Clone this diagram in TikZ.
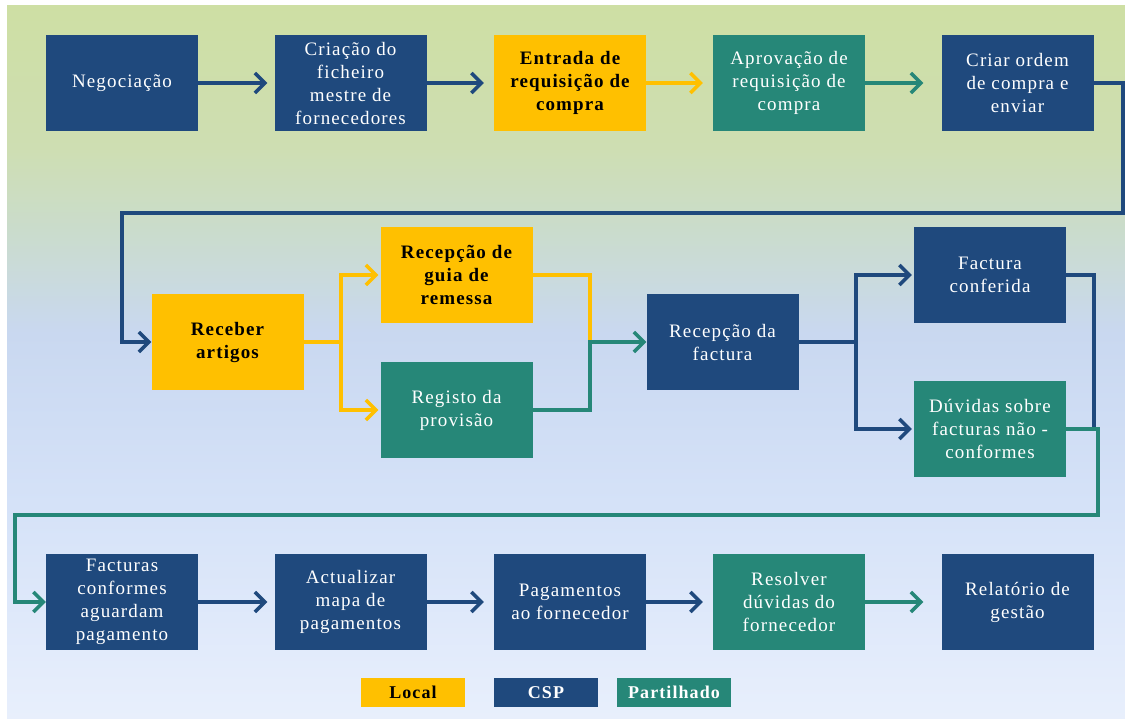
\documentclass[tikz,border=0pt]{standalone}
\usepackage{fontspec}
\setmainfont{Liberation Serif}[LetterSpace=6]
\usetikzlibrary{arrows.meta}

\definecolor{cspblue}{RGB}{31,73,125}
\definecolor{locyellow}{RGB}{255,192,0}
\definecolor{sharedteal}{RGB}{38,135,120}
\definecolor{bgA}{RGB}{206,223,164}
\definecolor{bgB}{RGB}{206,222,178}
\definecolor{bgC}{RGB}{202,220,205}
\definecolor{bgD}{RGB}{201,216,240}
\definecolor{bgE}{RGB}{213,226,248}
\definecolor{bgF}{RGB}{232,239,252}

% page background: green at the top fading to pale blue
\pgfdeclareverticalshading{pagebg}{100bp}{
  color(0bp)=(bgF); color(25bp)=(bgF); color(40bp)=(bgE);
  color(52bp)=(bgD); color(59bp)=(bgC); color(65bp)=(bgB);
  color(75bp)=(bgA); color(100bp)=(bgA)}

\newcommand{\boxfont}{\fontsize{19}{23}\selectfont}
\newcommand{\legfont}{\fontsize{18}{20}\selectfont\bfseries}

\tikzset{
  box/.style={rectangle, minimum width=152pt, minimum height=96pt,
    inner sep=2pt, align=center, font=\boxfont},
  csp/.style={box, fill=cspblue, text=white},
  loc/.style={box, fill=locyellow, text=black, font=\boxfont\bfseries},
  shared/.style={box, fill=sharedteal, text=white},
  legend/.style={rectangle, minimum height=29pt, inner sep=0pt, font=\legfont},
  wire/.style={line width=3.5pt},
  tip/.style={-{Straight Barb[length=10pt,width=20pt,line width=3.5pt]}},
  bluewire/.style={wire, draw=cspblue},
  yelwire/.style={wire, draw=locyellow},
  tealwire/.style={wire, draw=sharedteal},
}

\begin{document}
\begin{tikzpicture}[x=1pt, y=-1pt]
\useasboundingbox (0,0) rectangle (1125,721);
\fill[white] (0,0) rectangle (1125,721);
\shade[shading=pagebg] (7,5) rectangle (1125,718);

% first row
\node[csp]    (neg)   at (122,83)   {Negociação};
\node[csp]    (cri)   at (350.5,83) {Criação do\\ficheiro\\mestre de\\fornecedores};
\node[loc]    (ent)   at (570,83)   {Entrada de\\requisição de\\compra};
\node[shared] (apr)   at (789,83)   {Aprovação de\\requisição de\\compra};
\node[csp]    (ord)   at (1017.5,83){Criar ordem\\de compra e\\enviar};

% second row
\node[loc]    (rec)   at (227.5,342){Receber\\artigos};
\node[loc]    (guia)  at (456.5,275){Recepção de\\guia de\\remessa};
\node[shared] (prov)  at (456.5,410){Registo da\\provisão};
\node[csp]    (fact)  at (722.5,342){Recepção da\\factura};
\node[csp]    (conf)  at (990,275)  {Factura\\conferida};
\node[shared] (duv)   at (990,429)  {Dúvidas sobre\\facturas não -\\conformes};

% third row
\node[csp]    (agu)   at (122,602)  {Facturas\\conformes\\aguardam\\pagamento};
\node[csp]    (act)   at (350.5,602){Actualizar\\mapa de\\pagamentos};
\node[csp]    (pag)   at (570,602)  {Pagamentos\\ao fornecedor};
\node[shared] (res)   at (789,602)  {Resolver\\dúvidas do\\fornecedor};
\node[csp]    (rel)   at (1017.5,602){Relatório de\\gestão};

% legend
\node[legend, minimum width=104pt, fill=locyellow, text=black] (lgloc) at (413,692.5) {Local};
\node[legend, minimum width=104pt, fill=cspblue, text=white]   (lgcsp) at (546,692.5) {CSP};
\node[legend, minimum width=114pt, fill=sharedteal, text=white] (lgsh) at (674,692.5) {Partilhado};

% routing points
\coordinate (loopR) at (1123,213);
\coordinate (loopL) at (122,213);
\coordinate (ysplit) at (341,342);
\coordinate (yjoin) at (590,342);
\coordinate (bsplit) at (856,342);
\coordinate (bjoin) at (1094,429);
\coordinate (tturn) at (1098,515);
\coordinate (tleft) at (15,515);

% first row connectors
\draw[bluewire, tip, shorten >=7pt]  (neg.east) -- (cri.west);
\draw[bluewire, tip, shorten >=10pt] (cri.east) -- (ent.west);
\draw[yelwire, tip, shorten >=10pt]  (ent.east) -- (apr.west);
\draw[tealwire, tip, shorten >=18pt] (apr.east) -- (ord.west);

% return from the first row to the second
\draw[bluewire, tip] (ord.east) -| (loopR) -- (loopL) |- (rec.west);

% goods receipt split and join
\draw[yelwire] (rec.east) -- (ysplit);
\draw[yelwire, tip, shorten >=2pt] (ysplit) |- (guia.west);
\draw[yelwire, tip, shorten >=2pt] (ysplit) |- (prov.west);
\draw[yelwire] (guia.east) -| (yjoin);
\draw[tealwire, tip] (prov.east) -| (yjoin) -- (fact.west);

% invoice split and join
\draw[bluewire] (fact.east) -- (bsplit);
\draw[bluewire, tip, shorten >=2pt] (bsplit) |- (conf.west);
\draw[bluewire, tip, shorten >=2pt] (bsplit) |- (duv.west);
\draw[bluewire] (conf.east) -| (bjoin);
\draw[tealwire, tip] (duv.east) -| (tturn) -- (tleft) |- (agu.west);

% third row connectors
\draw[bluewire, tip, shorten >=7pt]  (agu.east) -- (act.west);
\draw[bluewire, tip, shorten >=10pt] (act.east) -- (pag.west);
\draw[bluewire, tip, shorten >=10pt] (pag.east) -- (res.west);
\draw[tealwire, tip, shorten >=18pt] (res.east) -- (rel.west);
\end{tikzpicture}
\end{document}
